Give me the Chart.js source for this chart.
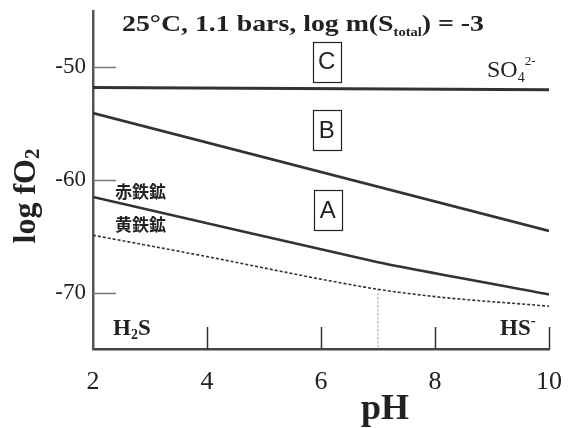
<!DOCTYPE html>
<html><head><meta charset="utf-8">
<script src="https://cdn.jsdelivr.net/npm/chart.js@4.4.0/dist/chart.umd.min.js"></script>
<style>html,body{margin:0;padding:0;background:#fff}#wrap{width:584px;height:428px}</style>
</head><body><div id="wrap"><canvas id="c" width="584" height="428"></canvas></div>
<script>
// ---- data (pH vs log fO2) ----
const xTickValues = [2, 4, 6, 8, 10];
const xInnerTicks = [4, 6, 8, 10];
const yTickValues = [-50, -60, -70];
const so4Ph = [2, 10];            const so4LogFO2 = [-51.8, -52.0];
const lineBPh = [2, 10];          const lineBLogFO2 = [-54.06, -64.52];
const hemPyrPh = [2, 7, 10];      const hemPyrLogFO2 = [-61.5, -67.3, -70.15];
const lowerPh = [2, 4, 6, 7, 8, 10];
const lowerLogFO2 = [-64.9, -66.8, -68.8, -69.7, -70.35, -71.2];
const h2sHsPh = [7, 7];           const h2sHsLogFO2 = [-69.7, -75];
const boxLabels = ['C', 'B', 'A'];
const boxPh = [6.1, 6.1, 6.12];
const boxLogFO2 = [-49.5, -55.6, -62.7];

const pts = (xs, ys) => xs.map((x, i) => ({x, y: ys[i]}));
const SERIF = '"Liberation Serif", "DejaVu Serif", serif';
const SANS = '"Liberation Sans", Arial, sans-serif';
const CJK = '"Noto Sans CJK JP", "Noto Sans CJK SC", sans-serif';

function measure(ctx, parts) {
  let w = 0;
  for (const [t, f] of parts) { ctx.font = f; w += ctx.measureText(t).width; }
  return w;
}
function seg(ctx, parts, x, y, targetW) {
  const w = measure(ctx, parts);
  const sx = targetW ? targetW / w : 1;
  ctx.save();
  ctx.translate(x, y);
  ctx.scale(sx, 1);
  let cx = 0;
  for (const [t, f, dy] of parts) {
    ctx.font = f;
    ctx.fillText(t, cx, dy);
    cx += ctx.measureText(t).width;
  }
  ctx.restore();
}

const decor = {
  id: 'decor',
  afterDraw(chart) {
    const ctx = chart.ctx, xs = chart.scales.x, ys = chart.scales.y;
    const ca = chart.chartArea;
    ctx.save();
    // inward ticks on y
    ctx.strokeStyle = '#777'; ctx.lineWidth = 1.5;
    for (const v of yTickValues) {
      const py = Math.round(ys.getPixelForValue(v)) + 0.5;
      ctx.beginPath(); ctx.moveTo(ca.left, py); ctx.lineTo(ca.left + 23, py); ctx.stroke();
    }
    // inward ticks on x
    ctx.strokeStyle = '#333';
    for (const v of xInnerTicks) {
      const px = Math.round(xs.getPixelForValue(v)) + 0.5;
      ctx.beginPath(); ctx.moveTo(px, ca.bottom); ctx.lineTo(px, ca.bottom - 22); ctx.stroke();
    }
    // boxed labels
    ctx.textAlign = 'center'; ctx.textBaseline = 'middle';
    for (let i = 0; i < boxLabels.length; i++) {
      const cx = xs.getPixelForValue(boxPh[i]);
      const cy = ys.getPixelForValue(boxLogFO2[i]);
      ctx.strokeStyle = '#222'; ctx.lineWidth = 1.2;
      ctx.strokeRect(Math.round(cx - 14) + 0.5, Math.round(cy - 20) + 0.5, 28, 40);
      ctx.fillStyle = '#222';
      ctx.font = '24px ' + SANS;
      ctx.fillText(boxLabels[i], cx, cy + 1);
    }
    // texts
    ctx.textAlign = 'left'; ctx.textBaseline = 'alphabetic';
    ctx.fillStyle = '#222';
    seg(ctx, [
      ['25°C, 1.1 bars, log m(S', 'bold 23px ' + SERIF, 0],
      ['total', 'bold 12px ' + SERIF, 5],
      [') = -3', 'bold 23px ' + SERIF, 0]
    ], 122, 31, 362);
    seg(ctx, [
      ['SO', '24px ' + SERIF, 0],
      ['4', '14px ' + SERIF, 5],
      ['2-', '13px ' + SERIF, -12]
    ], 487, 77);
    seg(ctx, [
      ['H', 'bold 23px ' + SERIF, 0],
      ['2', 'bold 14px ' + SERIF, 4],
      ['S', 'bold 23px ' + SERIF, 0]
    ], 113, 335);
    seg(ctx, [
      ['HS', 'bold 23px ' + SERIF, 0],
      ['-', 'bold 15px ' + SERIF, -10]
    ], 500, 335);
    ctx.font = 'bold 17px ' + CJK;
    ctx.textBaseline = 'middle';
    ctx.fillText('赤鉄鉱', 115, 192);
    ctx.fillText('黄鉄鉱', 115, 225);
    // axis titles
    ctx.textBaseline = 'alphabetic';
    ctx.textAlign = 'center';
    ctx.font = 'bold 36px ' + SERIF;
    ctx.fillText('pH', 385, 419);
    // y title rotated
    ctx.save();
    ctx.translate(35, 196);
    ctx.rotate(-Math.PI / 2);
    ctx.textAlign = 'left';
    const yParts = [
      ['log fO', 'bold 32px ' + SERIF, 0],
      ['2', 'bold 21px ' + SERIF, 4]
    ];
    seg(ctx, yParts, -measure(ctx, yParts) / 2, 0);
    ctx.restore();
    ctx.restore();
  }
};

new Chart(document.getElementById('c'), {
  type: 'line',
  data: {
    datasets: [
      {data: pts(so4Ph, so4LogFO2), borderColor: '#333', borderWidth: 3},
      {data: pts(lineBPh, lineBLogFO2), borderColor: '#333', borderWidth: 2.6},
      {data: pts(hemPyrPh, hemPyrLogFO2), borderColor: '#333', borderWidth: 2.6, tension: 0.15},
      {data: pts(lowerPh, lowerLogFO2), borderColor: '#333', borderWidth: 1.6, borderDash: [3, 2], cubicInterpolationMode: 'monotone'},
      {data: pts(h2sHsPh, h2sHsLogFO2), borderColor: '#aaa', borderWidth: 1.2, borderDash: [2, 2]}
    ]
  },
  options: {
    responsive: false,
    devicePixelRatio: 1,
    animation: false,
    layout: {padding: {top: 11, right: 35, left: 0, bottom: 0}},
    elements: {point: {radius: 0}, line: {fill: false}},
    plugins: {legend: {display: false}, tooltip: {enabled: false}},
    scales: {
      x: {
        type: 'linear', min: 2, max: 10,
        afterBuildTicks: s => { s.ticks = xTickValues.map(v => ({value: v})); },
        afterFit: s => { s.height = 79; s.paddingLeft = 0; s.paddingRight = 0; },
        grid: {drawOnChartArea: false, drawTicks: false},
        border: {display: true, color: '#444', width: 2.5},
        ticks: {font: {family: SERIF, size: 26}, color: '#222', padding: 18, maxRotation: 0, autoSkip: false}
      },
      y: {
        type: 'linear', min: -75, max: -45,
        afterBuildTicks: s => { s.ticks = yTickValues.map(v => ({value: v})); },
        afterFit: s => { s.width = 93; s.paddingTop = 0; s.paddingBottom = 0; },
        grid: {drawOnChartArea: false, drawTicks: false},
        border: {display: true, color: '#555', width: 2.5},
        ticks: {font: {family: SERIF, size: 23}, color: '#222', padding: 7, autoSkip: false}
      }
    }
  },
  plugins: [decor]
});
</script>
</body></html>
